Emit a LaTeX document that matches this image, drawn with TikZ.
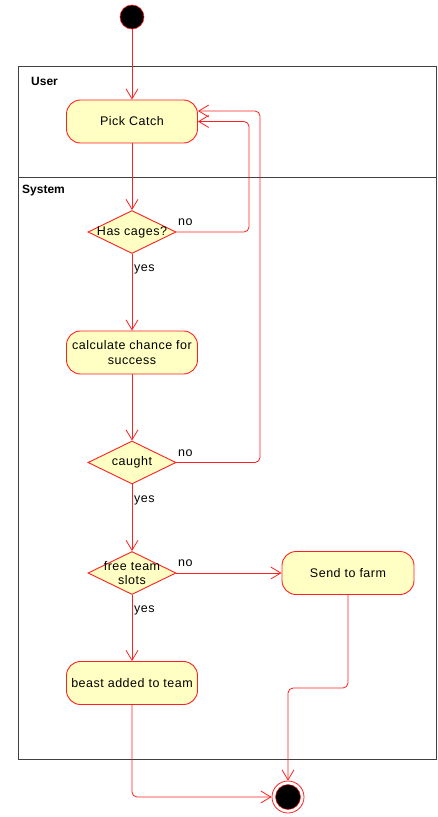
\documentclass[tikz,border=0pt]{standalone}
\usepackage{fontspec}
\setmainfont{Liberation Sans}
\newfontfamily\nodefont[LetterSpace=4]{Liberation Sans}
\usetikzlibrary{shapes.geometric,arrows.meta}
\definecolor{nodefill}{HTML}{FFFFC4}
\definecolor{lred}{HTML}{FF2020}
\definecolor{lanecol}{HTML}{404040}
\begin{document}
\begin{tikzpicture}[x=1pt,y=-1pt,
  font=\nodefont\fontsize{12.5}{14.5}\selectfont,
  actbox/.style={draw=lred, fill=nodefill, line width=0.9pt, rectangle, rounded corners=14pt,
    minimum width=131pt, minimum height=43pt, align=center, inner sep=2pt},
  decbox/.style={draw=lred, fill=nodefill, line width=0.9pt, diamond, inner sep=0pt,
    minimum width=88pt, minimum height=43pt},
  flow/.style={draw=lred, line width=0.8pt, rounded corners=5pt,
    -{Straight Barb[length=10pt,width=12pt,line width=0.8pt]}},
  lbl/.style={anchor=west, inner sep=0pt},
  lanelbl/.style={anchor=west, inner sep=0pt, font=\rmfamily\fontsize{12}{14}\selectfont\bfseries}
]
\useasboundingbox (0,0) rectangle (438,817);
% swimlanes
\draw[lanecol, line width=1pt] (18,66) rectangle (436,759);
\draw[lanecol, line width=1pt] (18,177) -- (436,177);
\node[lanelbl] (user) at (31,81) {User};
\node[lanelbl] (system) at (22,191) {System};

% start
\node[circle, fill=black, draw=lred, line width=0.6pt, minimum size=24pt, inner sep=0pt] (start) at (132,17) {};

% activities
\node[actbox] (pick) at (132,121.5) {Pick Catch};
\node[decbox] (d1) at (132,232) {};
\node[inner sep=0pt] (d1t) at (132,232) {Has cages?};
\node[actbox] (calc) at (132,352.5) {calculate chance for\\success};
\node[decbox] (d2) at (132,462.5) {};
\node[inner sep=0pt] (d2t) at (132,462.5) {caught};
\node[decbox] (d3) at (132,573) {};
\node[inner sep=0pt, align=center] (d3t) at (132,573) {free team\\slots};
\node[actbox, minimum width=132pt] (farm) at (348,573) {Send to farm};
\node[actbox] (beast) at (132,683) {beast added to team};

% end
\node[circle, draw=lred, line width=0.8pt, minimum size=32pt, inner sep=0pt] (endo) at (288,797) {};
\node[circle, fill=black, draw=lred, line width=0.5pt, minimum size=25pt, inner sep=0pt] (endi) at (288,797) {};

\coordinate (x1) at (249,0);
\coordinate (x2) at (260,0);
\coordinate (m) at (0,688);
\coordinate (pin2) at ([yshift=10.5pt]pick.east);

% connectors
\draw[flow] (start) -- (pick);
\draw[flow] (pick) -- (d1);
\draw[flow] (d1) -- (calc);
\draw[flow] (calc) -- (d2);
\draw[flow] (d2) -- (d3);
\draw[flow] (d3) -- (beast);
\draw[flow] (d3) -- (farm);
\draw[flow] (d1.east) -| (x1 |- pick.east) -- (pick.east);
\draw[flow] (d2.east) -| (x2 |- pin2) -- (pin2);
\draw[flow] (farm.south) -- (farm.south |- m) -| (endo.north);
\draw[flow] (beast.south) |- (endo.west);

% labels
\node[lbl] (l1) at (178,222.5) {no};
\node[lbl] (l2) at (134,269.5) {yes};
\node[lbl] (l3) at (178,453.5) {no};
\node[lbl] (l4) at (134,500.5) {yes};
\node[lbl] (l5) at (178,563.5) {no};
\node[lbl] (l6) at (134,610.5) {yes};
\end{tikzpicture}
\end{document}
